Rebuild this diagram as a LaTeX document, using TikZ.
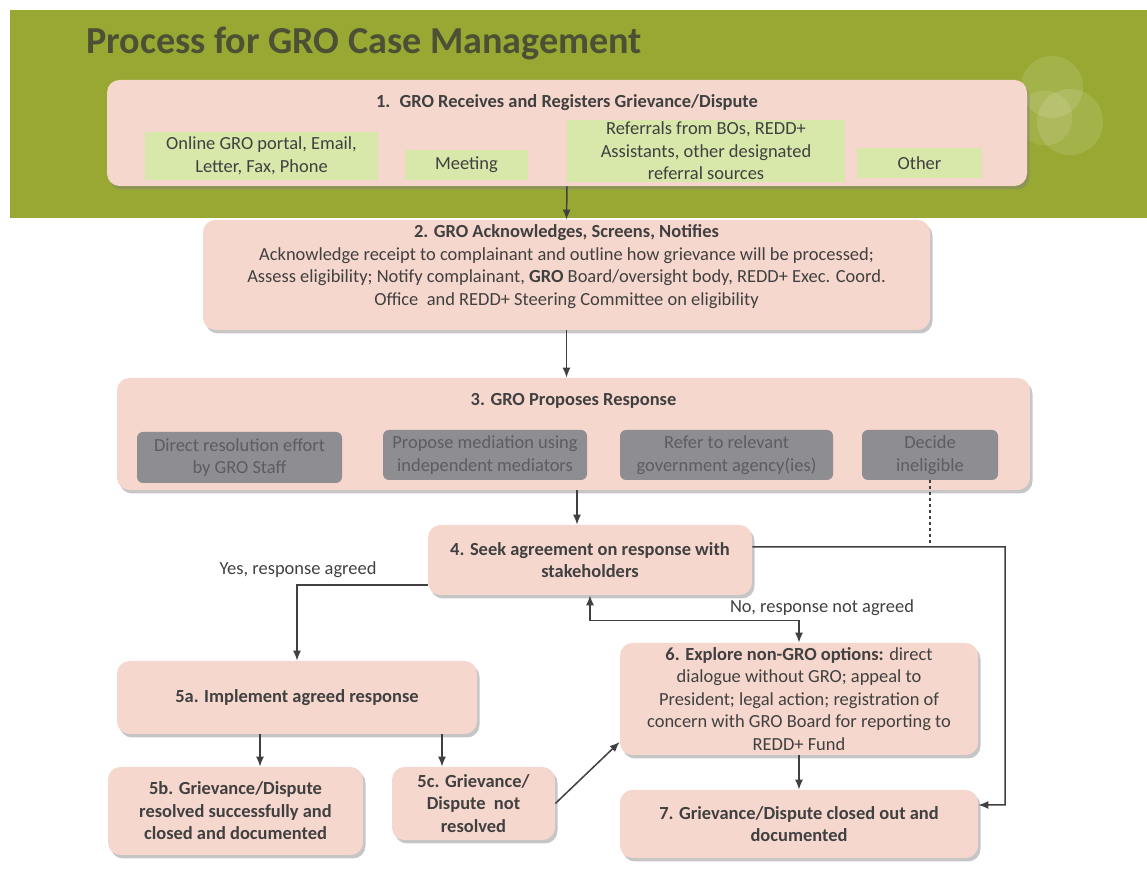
\documentclass[tikz,border=0pt]{standalone}
\usepackage{fontspec}
\setmainfont{Carlito}
\usepackage{xcolor}
\usepackage{tikz}
\usetikzlibrary{shapes,shadows,arrows,calc}
\usetikzlibrary{arrows.meta}
\definecolor{groGreen}{RGB}{152,168,50}
\definecolor{groTitle}{RGB}{77,80,53}
\definecolor{groPink}{RGB}{246,215,205}
\definecolor{groLime}{RGB}{216,231,170}
\definecolor{groGray}{RGB}{142,141,146}
\definecolor{groGrayText}{RGB}{92,92,98}
\definecolor{groText}{RGB}{64,64,64}
\tikzstyle{tsText} = [
    text=groText,
    font=\fontsize{10.5}{12.8}\selectfont,
    align=center
]
\tikzstyle{tsBold} = [
    tsText,
    font=\fontsize{10.5}{12.8}\selectfont\bfseries
]
\tikzstyle{tsBox} = [
    rectangle,
    rounded corners=0.25cm,
    fill=groPink,
    inner sep=0pt,
    drop shadow={shadow xshift=0.05cm, shadow yshift=-0.07cm, fill=black!50, opacity=0.45}
]
\tikzstyle{tsSource} = [
    rectangle,
    tsText,
    fill=groLime,
    inner sep=0pt
]
\tikzstyle{tsOption} = [
    rectangle,
    tsText,
    rounded corners=0.12cm,
    fill=groGray,
    text=groGrayText,
    inner sep=0pt
]
\tikzstyle{tsArrow} = [
    draw=groText,
    line width=0.3mm,
    -{Latex[length=2mm,width=1.6mm]}
]
\tikzstyle{tsLine} = [
    draw=groText,
    line width=0.3mm
]

\begin{document}
\begin{tikzpicture}

    \useasboundingbox (0,0) rectangle (22.94,17.38);

    \fill[groGreen] (0.2,13.02) rectangle (22.94,17.18);
    \fill[white, opacity=0.12] (21.04,15.64) circle (0.62);
    \fill[white, opacity=0.12] (21.4,14.94) circle (0.66);
    \fill[white, opacity=0.10] (20.9,15.02) circle (0.55);

    \node[anchor=west, text=groTitle, font=\fontsize{21.7}{24}\selectfont\bfseries] (title) at (1.6,16.52) {Process for GRO Case Management};

    \node[ tsBox,
            minimum width=18.4cm,
            minimum height=2.12cm] (receive) at (11.34,14.72) {};
    \node[tsBold] (receivetitle) at (11.34,15.33) {1.\enspace GRO Receives and Registers Grievance/Dispute};

    \node[ tsSource,
            minimum width=4.66cm,
            minimum height=0.96cm] (portal) at (5.23,14.26) {Online GRO portal, Email,\\ Letter, Fax, Phone};
    \node[ tsSource,
            minimum width=2.46cm,
            minimum height=0.6cm] (meeting) at (9.33,14.08) {Meeting};
    \node[ tsSource,
            minimum width=5.56cm,
            minimum height=1.24cm] (referrals) at (14.12,14.36) {Referrals from BOs, REDD+\\ Assistants, other designated\\ referral sources};
    \node[ tsSource,
            minimum width=2.5cm,
            minimum height=0.6cm] (other) at (18.39,14.12) {Other};

    \node[ tsBox, tsText,
            minimum width=14.54cm,
            minimum height=2.2cm] (screen) at (11.33,11.88) {\textbf{2. GRO Acknowledges, Screens, Notifies}\\ Acknowledge receipt to complainant and outline how grievance will be processed;\\ Assess eligibility; Notify complainant, \textbf{GRO} Board/oversight body, REDD+ Exec. Coord.\\ Office\ \ and REDD+ Steering Committee on eligibility\\[-0.05cm]};

    \node[ tsBox,
            minimum width=18.26cm,
            minimum height=2.24cm] (propose) at (11.47,8.7) {};
    \node[tsBold] (proposetitle) at (11.47,9.36) {3. GRO Proposes Response};

    \node[ tsOption,
            minimum width=4.1cm,
            minimum height=1.02cm] (direct) at (4.79,8.23) {Direct resolution effort\\ by GRO Staff};
    \node[ tsOption,
            minimum width=4.08cm,
            minimum height=1.0cm] (mediation) at (9.7,8.28) {Propose mediation using\\ independent mediators};
    \node[ tsOption,
            minimum width=4.26cm,
            minimum height=1.0cm] (refer) at (14.53,8.28) {Refer to relevant\\ government agency(ies)};
    \node[ tsOption,
            minimum width=2.72cm,
            minimum height=1.0cm] (ineligible) at (18.6,8.28) {Decide\\ ineligible};

    \node[ tsBox, tsBold,
            minimum width=6.48cm,
            minimum height=1.4cm] (agree) at (11.8,6.18) {4. Seek agreement on response with\\ stakeholders};

    \node[ tsBox, tsBold,
            minimum width=7.2cm,
            minimum height=1.46cm] (implement) at (5.94,3.43) {5a. Implement agreed response};

    \node[ tsBox, tsBold,
            minimum width=5.1cm,
            minimum height=1.76cm] (resolved) at (4.71,1.16) {5b. Grievance/Dispute\\ resolved successfully and\\ closed and documented};

    \node[ tsBox, tsBold,
            minimum width=3.26cm,
            minimum height=1.46cm] (unresolved) at (9.47,1.31) {5c. Grievance/\\ Dispute\ \ not\\ resolved};

    \node[ tsBox, tsText,
            minimum width=7.16cm,
            minimum height=2.24cm] (explore) at (15.98,3.4) {\textbf{6. Explore non-GRO options:} direct\\ dialogue without GRO; appeal to\\ President; legal action; registration of\\ concern with GRO Board for reporting to\\ REDD+ Fund};

    \node[ tsBox, tsBold,
            minimum width=7.16cm,
            minimum height=1.36cm] (closed) at (15.98,0.9) {7. Grievance/Dispute closed out and\\ documented};

    \node[tsText] (yes) at (5.96,5.98) {Yes, response agreed};
    \node[tsText] (no) at (16.44,5.22) {No, response not agreed};

    \coordinate (corner) at (20.1,6.44);

    \draw[tsArrow] (receive.south) -- (screen.north);
    \draw[tsArrow] (screen.south) -- (screen.south |- propose.north);
    \draw[tsArrow] ([xshift=-0.26cm]agree.north |- propose.south) -- ([xshift=-0.26cm]agree.north);
    \draw[tsLine, line width=0.5mm, dash pattern=on 0.6mm off 0.6mm] (ineligible.south) -- (ineligible.south |- corner);
    \draw[tsArrow] ([yshift=0.26cm]agree.east) -- (corner) |- ([yshift=0.38cm]closed.east);
    \draw[tsArrow] ([yshift=-0.5cm]agree.west) -| (implement.north);
    \draw[tsLine, {Latex[length=2mm,width=1.6mm]}-{Latex[length=2mm,width=1.6mm]}] (agree.south) -- ++(0,-0.5) -| (explore.north);
    \draw[tsArrow] ([xshift=0.49cm]resolved.north |- implement.south) -- ([xshift=0.49cm]resolved.north);
    \draw[tsArrow] ([xshift=-0.63cm]unresolved.north |- implement.south) -- ([xshift=-0.63cm]unresolved.north);
    \draw[tsArrow] (unresolved.east) -- ([yshift=-0.86cm]explore.west);
    \draw[tsArrow] (explore.south) -- (closed.north);

\end{tikzpicture}
\end{document}
